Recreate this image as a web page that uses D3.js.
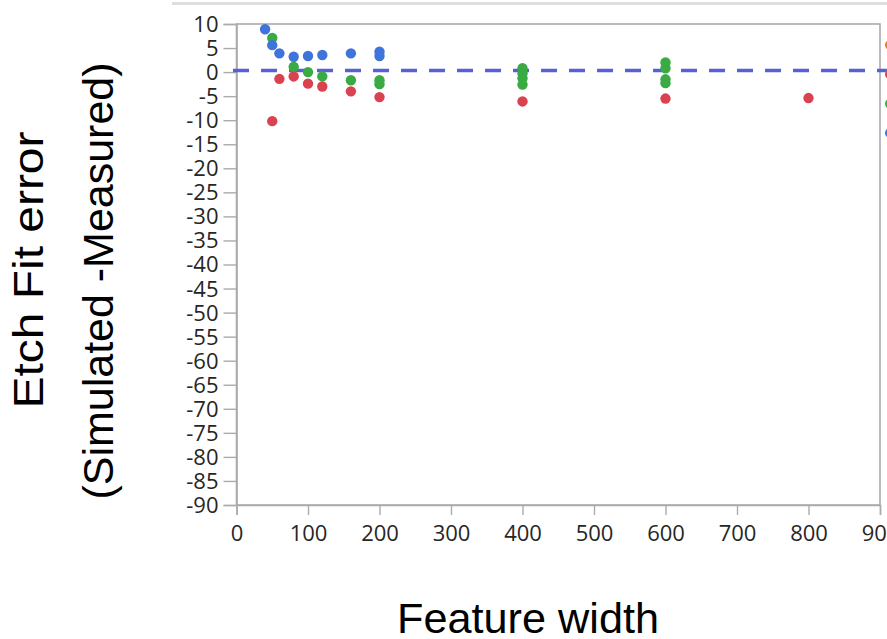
<!DOCTYPE html>
<html><head><meta charset="utf-8">
<script src="https://cdn.jsdelivr.net/npm/d3@7"></script>
<style>body{margin:0;background:#fff;overflow:hidden}</style></head>
<body>
<svg id="c" width="887" height="639"></svg>
<script>
// ---- data ----
const xTickValues = [0, 100, 200, 300, 400, 500, 600, 700, 800, 900];
const yTickValues = [10, 5, 0, -5, -10, -15, -20, -25, -30, -35, -40, -45, -50, -55, -60, -65, -70, -75, -80, -85, -90];
const blueX  = [40, 50, 60, 80, 100, 120, 160, 200, 200];
const blueY  = [8.9, 5.6, 3.9, 3.2, 3.35, 3.55, 3.9, 4.25, 3.35];
const greenX = [50, 80, 100, 120, 160, 200, 200, 400, 400, 400, 400, 600, 600, 600, 600];
const greenY = [7.1, 1.1, 0.0, -0.9, -1.7, -1.7, -2.5, 0.8, -0.3, -1.3, -2.6, 2.0, 0.8, -1.5, -2.3];
const redX   = [50, 60, 80, 100, 120, 160, 200, 400, 600, 800];
const redY   = [-10.2, -1.4, -0.9, -2.4, -3.0, -4.0, -5.2, -6.1, -5.5, -5.4];
const refLineValue = [0.35];
const legendColors = ["#d9822b", "#d8434f", "#3aaa45", "#3e74dc"];
const xTitle = "Feature width";
const yTitle = ["Etch Fit error", "(Simulated -Measured)"];

// ---- layout ----
const svg = d3.select("#c");
const L = 236.5, R = 880, T = 24, B = 505;
const x = d3.scaleLinear().domain([0, 900]).range([L, R]);
const y = d3.scaleLinear().domain([-90, 10]).range([B, T]);

// top grey band (cut-off header)
svg.append("rect").attr("x", 172).attr("y", 2).attr("width", 715).attr("height", 3).attr("fill", "#dedede");

// frame
svg.append("rect").attr("x", L).attr("y", T).attr("width", R - L).attr("height", B - T)
  .attr("fill", "none").attr("stroke", "#ababab").attr("stroke-width", 1.6);

const tickFont = "'Open Sans', 'Liberation Sans', sans-serif";
const fmt = d => String(d);

// y axis
const gy = svg.append("g").attr("transform", `translate(${L},0)`)
  .call(d3.axisLeft(y).tickValues(yTickValues).tickSize(13).tickPadding(5).tickFormat(fmt));
gy.select(".domain").attr("stroke", "#ababab").attr("stroke-width", 1.6);
gy.selectAll(".tick line").attr("stroke", "#ababab").attr("stroke-width", 1.4);
gy.selectAll(".tick text").attr("font-family", tickFont).attr("font-size", 22).attr("fill", "#262626")
  .attr("dy", "0.34em");

// x axis
const gx = svg.append("g").attr("transform", `translate(0,${B})`)
  .call(d3.axisBottom(x).tickValues(xTickValues).tickSize(10).tickPadding(10).tickFormat(fmt));
gx.select(".domain").attr("stroke", "#ababab").attr("stroke-width", 1.6);
gx.selectAll(".tick line").attr("stroke", "#ababab").attr("stroke-width", 1.4);
gx.selectAll(".tick text").attr("font-family", tickFont).attr("font-size", 22).attr("fill", "#262626");

// reference dashed line
svg.selectAll(".ref").data(refLineValue).join("line").attr("class", "ref")
  .attr("x1", 233).attr("x2", 887)
  .attr("y1", d => y(d)).attr("y2", d => y(d))
  .attr("stroke", "#5761d6").attr("stroke-width", 3.5).attr("stroke-dasharray", "16,12");

// points
function drawSeries(xs, ys, color) {
  svg.append("g").selectAll("circle").data(xs.map((v, i) => [v, ys[i]])).join("circle")
    .attr("cx", d => x(d[0])).attr("cy", d => y(d[1])).attr("r", 5.2)
    .attr("fill", color);
}
drawSeries(redX, redY, legendColors[1]);
drawSeries(greenX, greenY, legendColors[2]);
drawSeries(blueX, blueY, legendColors[3]);

// partial legend markers at right edge
const legY = d3.scalePoint().domain(d3.range(legendColors.length)).range([45, 133]);
svg.append("g").selectAll("circle").data(legendColors).join("circle")
  .attr("cx", 890).attr("cy", (d, i) => legY(i)).attr("r", 5).attr("fill", d => d);

// titles
const titleFont = "'Liberation Sans', Arial, sans-serif";
svg.append("text").attr("x", 528).attr("y", 633).attr("text-anchor", "middle")
  .attr("font-family", titleFont).attr("font-size", 42).attr("fill", "#000")
  .attr("textLength", 262).attr("lengthAdjust", "spacingAndGlyphs").text(xTitle);
const yt = [[43, 270, 277], [113, 281, 437]];
yTitle.forEach((t, i) => {
  svg.append("text").attr("transform", `translate(${yt[i][0]},${yt[i][1]}) rotate(-90)`)
    .attr("text-anchor", "middle").attr("font-family", titleFont).attr("font-size", 42).attr("fill", "#000")
    .attr("textLength", yt[i][2]).attr("lengthAdjust", "spacingAndGlyphs").text(t);
});
</script>
</body></html>
